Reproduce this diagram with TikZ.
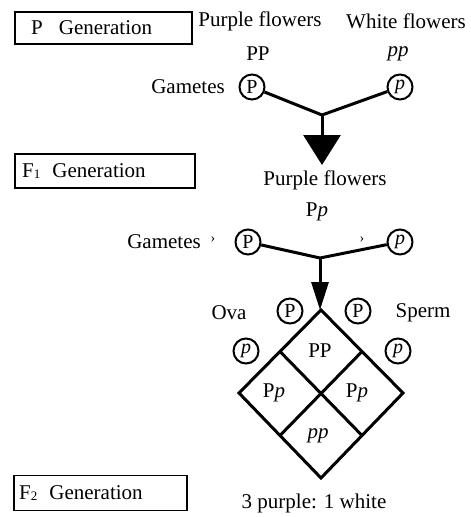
\documentclass[tikz,border=0pt]{standalone}
\usepackage{fontspec}
\setmainfont{Liberation Serif}
\usetikzlibrary{arrows.meta,calc}
\begin{document}
\begin{tikzpicture}[x=1pt,y=-1pt,
  lbl/.style={font=\fontsize{21}{24}\selectfont, inner sep=0pt},
  genbox/.style={draw, line width=1.6pt, minimum height=32pt, inner sep=0pt},
  gamete/.style={draw, circle, line width=2pt, minimum size=25pt, inner sep=0pt,
    font=\fontsize{20}{20}\selectfont},
  link/.style={line width=3pt},
  cell/.style={line width=3pt, line join=miter},
  ]
\useasboundingbox (0,0) rectangle (471,517);

% generation boxes
\node[genbox, minimum width=177pt] (pbox) at (103.5,28) {};
\node[lbl, anchor=west] (ptext) at (31,28) {P\hspace{16pt}Generation};
\node[genbox, minimum width=180pt, minimum height=34pt] (f1box) at (105,171) {};
\node[lbl, anchor=west] (f1text) at (22,171) {F\raisebox{-1pt}{\fontsize{13}{13}\selectfont 1}\hspace{12pt}Generation};
\node[genbox, minimum width=173pt, minimum height=35pt] (f2box) at (100.5,493) {};
\node[lbl, anchor=west] (f2text) at (19,493) {F\raisebox{-1pt}{\fontsize{13}{13}\selectfont 2}\hspace{12pt}Generation};

% parental cross
\node[lbl] (purple1) at (260,21) {Purple flowers};
\node[lbl] (white1) at (406,21) {White flowers};
\node[lbl] (PP1) at (258,54) {PP};
\node[lbl] (pp1) at (398,54) {\textit{pp}};
\node[lbl] (gam1) at (188,87) {Gametes};
\node[gamete] (gP1) at (252,87) {P};
\node[gamete] (gp1) at (400,87) {\textit{p}};
\coordinate (j1) at (322,115);
\coordinate (tip1) at (322,165);
\draw[link] (gP1) -- (j1) -- (gp1);
\draw[link, -{Triangle[width=37pt,length=30pt]}] (j1) -- (tip1);
\node[lbl] (purple2) at (325,180) {Purple flowers};

% F1 self-cross
\node[lbl] (Pp1) at (317,212) {P\textit{p}};
\node[lbl] (gam2) at (164,242) {Gametes};
\node[lbl, font=\fontsize{14}{14}\selectfont] (sep1) at (213,240) {›};
\node[gamete] (gP2) at (248,242) {P};
\node[lbl, font=\fontsize{14}{14}\selectfont] (sep2) at (362,240) {›};
\node[gamete] (gp2) at (400,242) {\textit{p}};
\coordinate (j2) at (320,258);
\coordinate (tip2) at (320,310);
\draw[link] (gP2) -- (j2) -- (gp2);
\draw[link, -{Triangle[width=17pt,length=28pt]}] (j2) -- (tip2);

% Punnett square
\coordinate (dt) at (321,310);
\coordinate (dl) at (239,393);
\coordinate (dr) at (403,393);
\coordinate (db) at (321,478);
\draw[cell] (dt) -- (dr) -- (db) -- (dl) -- cycle;
\draw[cell] ($(dt)!0.5!(dl)$) -- ($(dr)!0.5!(db)$);
\draw[cell] ($(dt)!0.5!(dr)$) -- ($(dl)!0.5!(db)$);

\node[lbl] (ova) at (229,313) {Ova};
\node[gamete] (oP) at (290,311) {P};
\node[gamete] (sP) at (358,311) {P};
\node[lbl] (sperm) at (423,313) {Sperm};
\node[gamete] (op) at (246,351) {\textit{p}};
\node[gamete] (sp) at (398,351) {\textit{p}};

\node[lbl] (cPP) at (320,351) {PP};
\node[lbl] (cPpl) at (274,393) {P\textit{p}};
\node[lbl] (cPpr) at (357,393) {P\textit{p}};
\node[lbl] (cpp) at (318,436) {\textit{pp}};

\node[lbl] (ratio) at (314,503) {3 purple: 1 white};
\end{tikzpicture}
\end{document}
